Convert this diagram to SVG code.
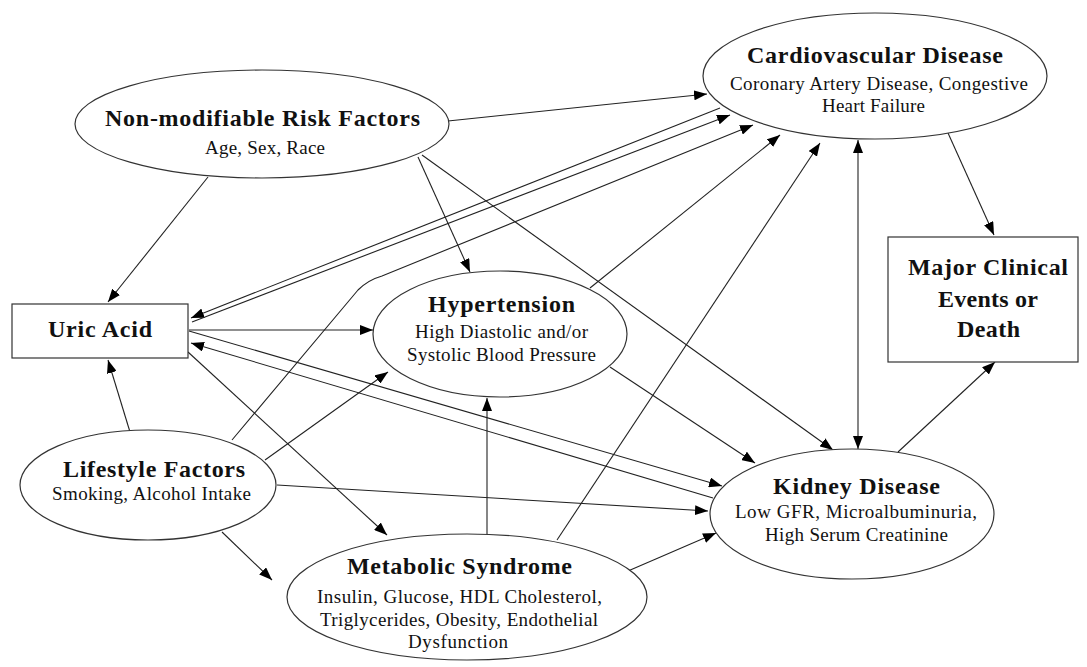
<svg xmlns="http://www.w3.org/2000/svg" width="1087" height="667" viewBox="0 0 1087 667">
<defs>
<marker id="arr" markerWidth="13" markerHeight="10" refX="13" refY="5" orient="auto-start-reverse" markerUnits="userSpaceOnUse">
<path d="M0,0 L13,5 L0,10 z" fill="#000"/>
</marker>
<style>
.node{fill:#fff;stroke:#333;stroke-width:1.2}
.t{font-family:"Liberation Serif","Times New Roman",serif;font-weight:bold;font-size:24px;fill:#111;text-anchor:middle}
.s{font-family:"Liberation Serif","Times New Roman",serif;font-size:19px;fill:#111;text-anchor:middle}
.c{fill:none;stroke:#222;stroke-width:1.1}
.a{marker-end:url(#arr)}
.b{marker-start:url(#arr);marker-end:url(#arr)}
</style>
</defs>
<rect width="1087" height="667" fill="#fff"/>
<g id="connectors">
<path class="c a" d="M448,121 L707,94"/>
<path class="c a" d="M208,177 L108,302"/>
<path class="c a" d="M418,157 L470,272"/>
<path class="c a" d="M422,155 L833,450"/>
<path class="c a" d="M720,108 L191,318"/>
<path class="c a" d="M192,322 L730,115"/>
<path class="c a" d="M232,440 L358,290 Q368,280 382,276 L753,125"/>
<path class="c a" d="M189,330 L373,330"/>
<path class="c a" d="M189,331 L722,486"/>
<path class="c a" d="M713,498 L191,343"/>
<path class="c a" d="M188,352 L387,535"/>
<path class="c a" d="M130,432 L108,360"/>
<path class="c a" d="M265,460 L388,372"/>
<path class="c a" d="M277,485 L708,511"/>
<path class="c a" d="M222,532 L272,580"/>
<path class="c a" d="M487,534 L487,398"/>
<path class="c a" d="M628,571 L716,533"/>
<path class="c a" d="M557,540 L820,143"/>
<path class="c a" d="M610,367 L755,463"/>
<path class="c a" d="M590,288 L780,135"/>
<path class="c b" d="M858,140 L858,449"/>
<path class="c a" d="M948,133 L994,235"/>
<path class="c a" d="M898,452 L995,362"/>
</g>
<g id="nonmod">
<ellipse class="node" cx="262" cy="124" rx="187" ry="54"/>
<text class="t" x="262.5" y="126" textLength="315" lengthAdjust="spacing">Non-modifiable Risk Factors</text>
<text class="s" x="265" y="154" textLength="120" lengthAdjust="spacing">Age, Sex, Race</text>
</g>
<g id="cvd">
<ellipse class="node" cx="875" cy="76" rx="172" ry="63"/>
<text class="t" x="875" y="63" textLength="256" lengthAdjust="spacing">Cardiovascular Disease</text>
<text class="s" x="879" y="90" textLength="298" lengthAdjust="spacing">Coronary Artery Disease, Congestive</text>
<text class="s" x="873.5" y="112" textLength="103" lengthAdjust="spacing">Heart Failure</text>
</g>
<g id="uric">
<rect class="node" x="12" y="304" width="176" height="54"/>
<text class="t" x="100" y="337" textLength="104" lengthAdjust="spacing">Uric Acid</text>
</g>
<g id="hypertension">
<ellipse class="node" cx="500" cy="334" rx="127" ry="63"/>
<text class="t" x="501.5" y="312" textLength="147" lengthAdjust="spacing">Hypertension</text>
<text class="s" x="501.5" y="338" textLength="173" lengthAdjust="spacing">High Diastolic and/or</text>
<text class="s" x="501.5" y="361" textLength="189" lengthAdjust="spacing">Systolic Blood Pressure</text>
</g>
<g id="lifestyle">
<ellipse class="node" cx="148" cy="485" rx="128" ry="55"/>
<text class="t" x="154" y="477" textLength="182" lengthAdjust="spacing">Lifestyle Factors</text>
<text class="s" x="151.5" y="500" textLength="199" lengthAdjust="spacing">Smoking, Alcohol Intake</text>
</g>
<g id="metabolic">
<ellipse class="node" cx="467" cy="597" rx="180" ry="63"/>
<text class="t" x="459.5" y="574" textLength="225" lengthAdjust="spacing">Metabolic Syndrome</text>
<text class="s" x="459.5" y="603" textLength="285" lengthAdjust="spacing">Insulin, Glucose, HDL Cholesterol,</text>
<text class="s" x="459" y="626" textLength="278" lengthAdjust="spacing">Triglycerides, Obesity, Endothelial</text>
<text class="s" x="458" y="648" textLength="100" lengthAdjust="spacing">Dysfunction</text>
</g>
<g id="kidney">
<ellipse class="node" cx="852" cy="514" rx="142" ry="65"/>
<text class="t" x="856.5" y="494" textLength="167" lengthAdjust="spacing">Kidney Disease</text>
<text class="s" x="856" y="518" textLength="242" lengthAdjust="spacing">Low GFR, Microalbuminuria,</text>
<text class="s" x="856.5" y="541" textLength="183" lengthAdjust="spacing">High Serum Creatinine</text>
</g>
<g id="major">
<rect class="node" x="888" y="237" width="190" height="125"/>
<text class="t" x="988" y="275" textLength="160" lengthAdjust="spacing">Major Clinical</text>
<text class="t" x="988" y="307" textLength="100" lengthAdjust="spacing">Events or</text>
<text class="t" x="988.5" y="337" textLength="63" lengthAdjust="spacing">Death</text>
</g>
</svg>
